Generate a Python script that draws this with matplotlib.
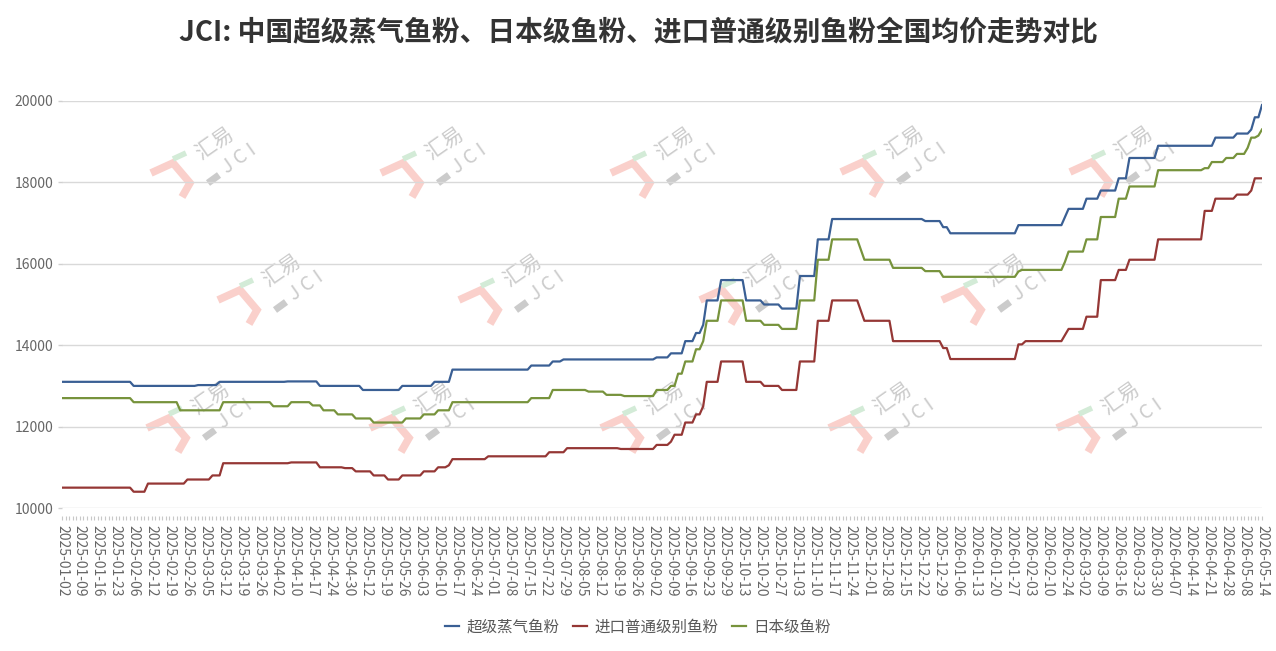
import numpy as np
import matplotlib
matplotlib.use("Agg")
import matplotlib.pyplot as plt
from matplotlib.transforms import IdentityTransform

plt.rcParams['font.family'] = ['Noto Sans CJK SC', 'DejaVu Sans']

title = "JCI: 中国超级蒸气鱼粉、日本级鱼粉、进口普通级别鱼粉全国均价走势对比"

# 每5个交易日一个刻度标签
tick_labels = [
    "2025-01-02", "2025-01-09", "2025-01-16", "2025-01-23", "2025-02-06", "2025-02-12",
    "2025-02-19", "2025-02-26", "2025-03-05", "2025-03-12", "2025-03-19", "2025-03-26",
    "2025-04-02", "2025-04-10", "2025-04-17", "2025-04-24", "2025-04-30", "2025-05-12",
    "2025-05-19", "2025-05-26", "2025-06-03", "2025-06-10", "2025-06-17", "2025-06-24",
    "2025-07-01", "2025-07-08", "2025-07-15", "2025-07-22", "2025-07-29", "2025-08-05",
    "2025-08-12", "2025-08-19", "2025-08-26", "2025-09-02", "2025-09-09", "2025-09-16",
    "2025-09-23", "2025-09-29", "2025-10-13", "2025-10-20", "2025-10-27", "2025-11-03",
    "2025-11-10", "2025-11-17", "2025-11-24", "2025-12-01", "2025-12-08", "2025-12-15",
    "2025-12-22", "2025-12-29", "2026-01-06", "2026-01-13", "2026-01-20", "2026-01-27",
    "2026-02-03", "2026-02-10", "2026-02-24", "2026-03-02", "2026-03-09", "2026-03-16",
    "2026-03-23", "2026-03-30", "2026-04-07", "2026-04-14", "2026-04-21", "2026-04-28",
    "2026-05-08", "2026-05-14",
]
n_days = 336

# 价格变动: 从第几个交易日开始, 价格(元/吨)
super_start = [0, 20, 38, 44, 63, 72, 84, 95, 104, 109, 131, 137, 140, 166, 170, 174, 177,
               179, 180, 184, 191, 196, 201, 206, 211, 215, 241, 246, 248, 267, 280, 281,
               286, 290, 295, 298, 306, 322, 328, 332, 333, 335]
super_val = [13100, 13000, 13020, 13100, 13110, 13000, 12900, 13000, 13100, 13400, 13500,
             13600, 13650, 13700, 13800, 14100, 14300, 14500, 15100, 15600, 15100, 15000,
             14900, 15700, 16600, 17100, 17050, 16900, 16750, 16950, 17150, 17350, 17600,
             17800, 18100, 18600, 18900, 19100, 19200, 19300, 19600, 19900]

import_start = [0, 20, 24, 35, 42, 45, 64, 72, 79, 82, 87, 91, 95, 101, 105, 108, 109, 119,
                136, 141, 156, 166, 170, 171, 174, 177, 179, 180, 184, 191, 196, 201, 206,
                211, 215, 223, 224, 232, 246, 248, 267, 269, 280, 281, 286, 290, 295, 298,
                306, 319, 322, 328, 332, 333]
import_val = [10500, 10400, 10600, 10700, 10800, 11100, 11120, 11000, 10980, 10900, 10800,
              10700, 10800, 10900, 11000, 11050, 11200, 11270, 11370, 11470, 11450, 11550,
              11630, 11800, 12100, 12300, 12500, 13100, 13600, 13100, 13000, 12900, 13600,
              14600, 15100, 14850, 14600, 14100, 13930, 13660, 14020, 14100, 14250, 14400,
              14700, 15600, 15850, 16100, 16600, 17300, 17600, 17700, 17800, 18100]

japan_start = [0, 20, 33, 45, 59, 64, 70, 73, 77, 82, 87, 96, 101, 105, 109, 131, 137, 147,
               152, 157, 166, 170, 172, 174, 177, 179, 180, 184, 191, 196, 201, 206, 211,
               215, 223, 224, 232, 241, 246, 267, 268, 280, 281, 286, 290, 295, 298, 306,
               319, 321, 325, 328, 331, 332, 334, 335]
japan_val = [12700, 12600, 12400, 12600, 12500, 12600, 12520, 12400, 12300, 12200, 12100,
             12200, 12300, 12400, 12600, 12700, 12900, 12860, 12780, 12750, 12900, 13000,
             13300, 13600, 13900, 14100, 14600, 15100, 14600, 14500, 14400, 15100, 16100,
             16600, 16350, 16100, 15900, 15820, 15680, 15810, 15850, 16050, 16300, 16600,
             17150, 17600, 17900, 18300, 18350, 18500, 18600, 18700, 18850, 19100, 19150,
             19300]

series = [
    ("超级蒸气鱼粉", super_start, super_val, "#3A5F94"),
    ("进口普通级别鱼粉", import_start, import_val, "#953735"),
    ("日本级鱼粉", japan_start, japan_val, "#77933C"),
]


def expand(starts, vals):
    runs = np.diff(starts + [n_days])
    return np.repeat(vals, runs)


W, H = 1276, 651
fig = plt.figure(figsize=(W / 100, H / 100), dpi=100)
ax = fig.add_axes([62 / W, 1 - 508 / H, 1200 / W, 407 / H])

# 水印
logo_pos = [(151, 173), (381, 173), (611, 173), (841, 172), (1070, 172),
            (218, 300), (459, 300), (700, 300), (942, 300),
            (147, 428), (370, 428), (601, 428), (829, 428), (1057, 428)]


def draw_logo(x0, y0):
    tr = IdentityTransform()

    def px(dx, dy):
        return x0 + dx, H - (y0 + dy)

    pts = [px(0, 0), px(22, -10), px(39, 10), px(31, 24)]
    ax.plot([p[0] for p in pts], [p[1] for p in pts], transform=tr, color="#fad0cb",
            lw=5.5, solid_joinstyle="miter", solid_capstyle="butt", zorder=0.5, clip_on=False)
    g = [px(22, -14), px(35, -20)]
    ax.plot([p[0] for p in g], [p[1] for p in g], transform=tr, color="#d3ebd7",
            lw=4, solid_capstyle="butt", zorder=0.5, clip_on=False)
    k = [px(57, 10), px(68, 2)]
    ax.plot([p[0] for p in k], [p[1] for p in k], transform=tr, color="#cbcbcb",
            lw=5, solid_capstyle="butt", zorder=0.5, clip_on=False)
    tx, ty = px(64, -30)
    ax.text(tx, ty, "汇易", transform=tr, rotation=35, rotation_mode="anchor",
            ha="center", va="center", fontsize=15, color="#cccccc", zorder=0.5)
    tx, ty = px(88, -14)
    ax.text(tx, ty, "J C I", transform=tr, rotation=35, rotation_mode="anchor",
            ha="center", va="center", fontsize=14, color="#cccccc", zorder=0.5)


for x0, y0 in logo_pos:
    draw_logo(x0, y0)

x = np.arange(n_days)
for name, starts, vals, color in series:
    ax.plot(x, expand(starts, vals), color=color, lw=1.6, label=name, zorder=3)

ax.set_xlim(0, n_days - 1)
ax.set_ylim(10000, 20000)
ax.grid(axis="y", color="#d9d9d9", lw=1)
ax.set_axisbelow(True)
for s in ["top", "right", "left"]:
    ax.spines[s].set_visible(False)
ax.spines["bottom"].set_position(("outward", 6))
ax.spines["bottom"].set_visible(False)
ax.tick_params(axis="y", labelsize=10, labelcolor="#666666", length=3, color="#d0d0d0",
               width=1, pad=3)
ax.tick_params(axis="x", which="both", length=3, color="#c8c8c8", width=0.8, pad=3,
               labelsize=10, labelcolor="#666666", labelrotation=270)

ax.set_yticks(np.arange(10000, 20001, 2000))
ax.set_xticks(np.arange(n_days), minor=True)
ax.set_xticks(np.arange(0, n_days, 5))
ax.set_xticklabels(tick_labels, rotation=270, va="top", ha="center", fontweight="light")
for lab in ax.get_yticklabels():
    lab.set_fontweight("light")

fig.text(0.5, 1 - 32 / H, title, ha="center", va="center", fontsize=20,
         fontweight="bold", color="#333333")
leg = fig.legend(loc="center", bbox_to_anchor=(0.5, 1 - 627 / H), ncol=3, frameon=False,
                 fontsize=11.2, handlelength=0.9, handletextpad=0.45, columnspacing=0.9,
                 labelcolor="#595959")
for t in leg.get_texts():
    t.set_fontweight("light")

fig.savefig("out.png", dpi=100)
